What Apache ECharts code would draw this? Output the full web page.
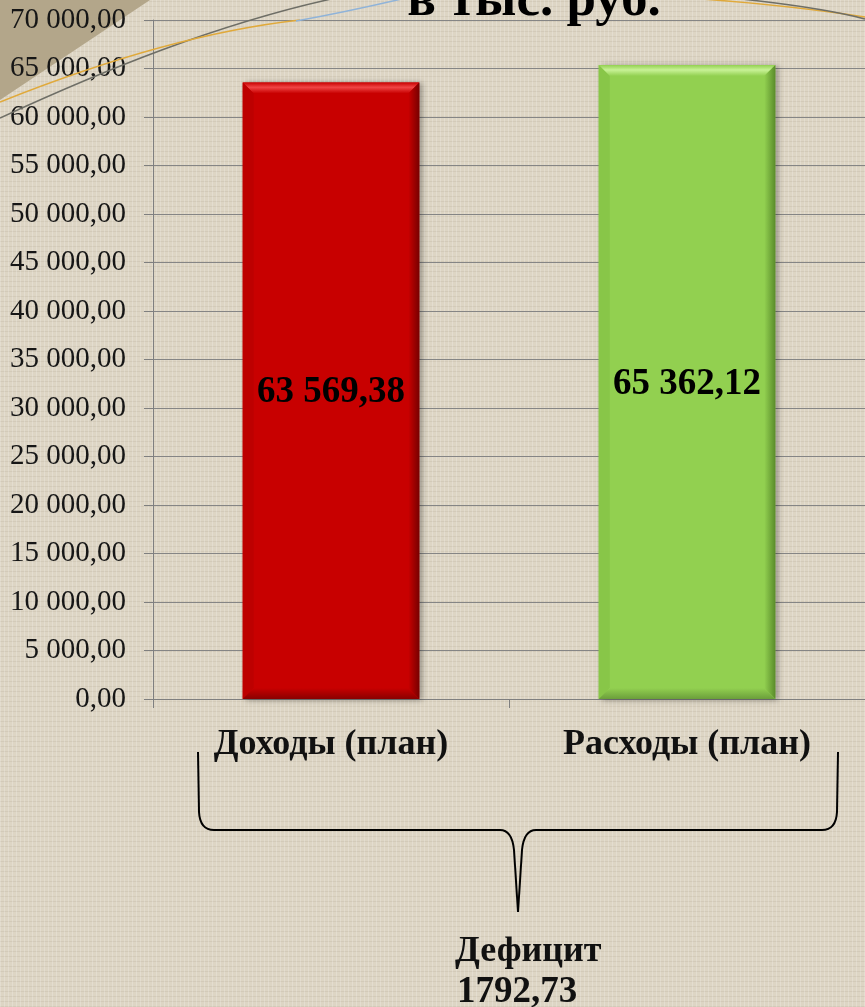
<!DOCTYPE html>
<html>
<head>
<meta charset="utf-8">
<script src="https://cdn.jsdelivr.net/npm/echarts@6/dist/echarts.min.js"></script>
<style>
  html, body { margin: 0; padding: 0; }
  #chart {
    width: 865px;
    height: 1007px;
    background-color: #ddd5c4;
    background-image:
      repeating-linear-gradient(90deg, rgba(255,255,255,0.20) 0 1px, transparent 1px 4px),
      repeating-linear-gradient(0deg, rgba(110,95,70,0.09) 0 1px, transparent 1px 5px);
  }
</style>
</head>
<body>
<div id="chart"></div>
<script>
// данные
const categories = ['Доходы (план)', 'Расходы (план)']
const values = [63569.38, 65362.12]
const deficitText = ['Дефицит', '1792,73']
const titleText = 'в тыс. руб.'
const yMin = 0
const yMax = 70000
const yStep = 5000

const serif = "'Liberation Serif', 'Times New Roman', serif"

// цвета столбцов с фаской
const palettes = [
  { main: '#c80000', light: '#f04545', dark: '#780000', bottom: '#8a0000', left: '#bd0000' },
  { main: '#92d050', light: '#c8f296', dark: '#5a8c2b', bottom: '#6b9e3b', left: '#88c648' },
]

function fmt(v) {
  const parts = v.toFixed(2).split('.')
  const int = parts[0].replace(/\B(?=(\d{3})+(?!\d))/g, ' ')
  return int + ',' + parts[1]
}

function renderBar(params, api) {
  const i = api.value(0)
  const v = api.value(1)
  const top = api.coord([i, v])
  const base = api.coord([i, 0])
  const w = api.size([1, 0])[0] * 0.496
  const l = top[0] - w / 2
  const r = top[0] + w / 2
  const t = top[1]
  const b = base[1]
  const e = 11
  const c = palettes[params.dataIndex]
  return {
    type: 'group',
    children: [
      {
        type: 'rect',
        shape: { x: l, y: t, width: w, height: b - t },
        style: { fill: c.main, shadowBlur: 6, shadowColor: 'rgba(0,0,0,0.35)', shadowOffsetX: 3, shadowOffsetY: 1 },
      },
      {
        type: 'polygon',
        shape: { points: [[l, t], [r, t], [r - e, t + e], [l + e, t + e]] },
        style: {
          fill: new echarts.graphic.LinearGradient(0, 0, 0, 1, [
            { offset: 0, color: c.main },
            { offset: 0.45, color: c.light },
            { offset: 1, color: c.main },
          ]),
        },
      },
      {
        type: 'polygon',
        shape: { points: [[l, t], [l + e, t + e], [l + e, b - e], [l, b]] },
        style: { fill: c.left },
      },
      {
        type: 'polygon',
        shape: { points: [[r, t], [r, b], [r - e, b - e], [r - e, t + e]] },
        style: {
          fill: new echarts.graphic.LinearGradient(0, 0, 1, 0, [
            { offset: 0, color: c.main },
            { offset: 1, color: c.dark },
          ]),
        },
      },
      {
        type: 'polygon',
        shape: { points: [[l, b], [r, b], [r - e, b - e], [l + e, b - e]] },
        style: {
          fill: new echarts.graphic.LinearGradient(0, 0, 0, 1, [
            { offset: 0, color: c.main },
            { offset: 1, color: c.bottom },
          ]),
        },
      },
      {
        type: 'text',
        x: top[0],
        y: (t + b) / 2 + 2,
        style: {
          text: fmt(v),
          fill: '#000',
          font: 'bold 37px ' + serif,
          align: 'center',
          verticalAlign: 'middle',
        },
      },
    ],
  }
}

// кривые Безье для графики
function curve(p, color, width) {
  return {
    type: 'bezierCurve',
    z: 10,
    shape: { x1: p[0], y1: p[1], cpx1: p[2], cpy1: p[3], cpx2: p[4], cpy2: p[5], x2: p[6], y2: p[7] },
    style: { fill: null, stroke: color, lineWidth: width },
  }
}
function seg(x1, y1, x2, y2) {
  return { type: 'line', z: 10, shape: { x1, y1, x2, y2 }, style: { stroke: '#000', lineWidth: 2 } }
}
function corner(x1, y1, cx, cy, x2, y2) {
  return {
    type: 'bezierCurve',
    z: 10,
    shape: { x1, y1, cpx1: cx, cpy1: cy, x2, y2 },
    style: { fill: null, stroke: '#000', lineWidth: 2 },
  }
}

const chart = echarts.init(document.getElementById('chart'))

const option = {
  backgroundColor: 'transparent',
  animation: false,
  grid: { left: 153, right: 0, top: 20, bottom: 308 },
  xAxis: {
    type: 'category',
    data: categories,
    axisLine: { lineStyle: { color: '#7f7f7f', width: 1 } },
    axisTick: { show: true, length: 9, lineStyle: { color: '#7f7f7f' } },
    axisLabel: {
      margin: 28,
      color: '#111',
      fontFamily: serif,
      fontWeight: 'bold',
      fontSize: 36,
    },
  },
  yAxis: {
    type: 'value',
    min: yMin,
    max: yMax,
    interval: yStep,
    axisLine: { show: true, lineStyle: { color: '#7f7f7f', width: 1 } },
    axisTick: { show: true, length: 9, lineStyle: { color: '#7f7f7f' } },
    splitLine: { show: true, lineStyle: { color: '#858585', width: 1 } },
    axisLabel: {
      margin: 27,
      color: '#161616',
      fontFamily: serif,
      fontSize: 29,
      formatter: v => fmt(v),
    },
  },
  graphic: [
    // декоративный уголок и дуги сверху
    {
      type: 'polygon',
      z: -10,
      shape: { points: [[0, 0], [150, 0], [0, 100]] },
      style: { fill: '#b3a68a' },
    },
    curve([0, 118, 100, 72, 220, 22, 345, -4], '#6e6e66', 1.5),
    curve([0, 102, 110, 58, 210, 30, 300, 20], '#e0a93a', 1.5),
    curve([296, 21, 335, 14, 372, 6, 410, -3], '#8fb3d9', 1.5),
    curve([688, -2, 760, 3, 820, 10, 865, 17], '#e0a93a', 1.5),
    curve([732, -2, 790, 4, 835, 11, 865, 19], '#6e6e66', 1.5),
    {
      type: 'text',
      z: 20,
      style: {
        text: titleText,
        x: 534,
        y: 28,
        fill: '#000',
        font: 'bold 53px ' + serif,
        align: 'center',
        verticalAlign: 'bottom',
      },
    },
    // фигурная скобка
    seg(198, 752, 199, 812),
    corner(199, 812, 200, 830, 214, 830),
    seg(214, 830, 500, 830),
    corner(500, 830, 512, 830, 514, 850),
    seg(514, 850, 518, 912),
    seg(518, 912, 522, 850),
    corner(522, 850, 524, 830, 536, 830),
    seg(536, 830, 822, 830),
    corner(822, 830, 836, 830, 837, 812),
    seg(837, 812, 838, 752),
    {
      type: 'text',
      z: 20,
      style: {
        text: deficitText[0],
        x: 455,
        y: 970,
        fill: '#111',
        font: 'bold 36px ' + serif,
        align: 'left',
        verticalAlign: 'bottom',
      },
    },
    {
      type: 'text',
      z: 20,
      style: {
        text: deficitText[1],
        x: 457,
        y: 1011,
        fill: '#111',
        font: 'bold 37px ' + serif,
        align: 'left',
        verticalAlign: 'bottom',
      },
    },
  ],
  series: [
    {
      type: 'custom',
      renderItem: renderBar,
      encode: { x: 0, y: 1 },
      data: values.map((v, i) => [i, v]),
    },
  ],
}

chart.setOption(option)
</script>
</body>
</html>
